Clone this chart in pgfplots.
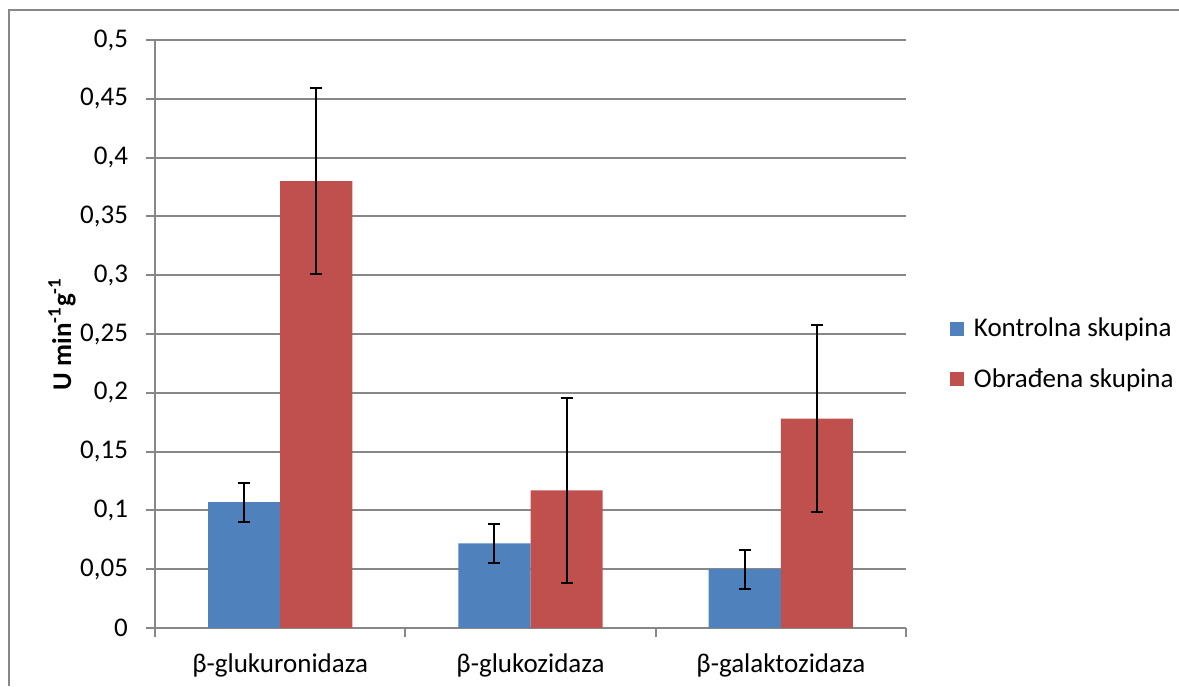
\documentclass[border=0pt]{standalone}
\usepackage{fontspec}
\setmainfont{Carlito}
\usepackage{pgfplots}
\pgfplotsset{compat=1.18}
\definecolor{ctrl}{HTML}{4F81BD}
\definecolor{obr}{HTML}{C0504D}
\definecolor{lin}{HTML}{878787}
\begin{document}
\begin{tikzpicture}
% 1 px of the reference = 0.5pt
\useasboundingbox (0,0) rectangle (589.5pt,343pt);
\draw[lin, line width=1pt] (4.5pt,0) -- (4.5pt,338pt) -- (589.5pt,338pt);
\begin{axis}[
    at={(77.5pt,29pt)}, anchor=south west,
    scale only axis, width=375.5pt, height=294pt,
    ybar, bar width=0.288,
    xmin=-0.5, xmax=2.5, ymin=0, ymax=0.5,
    ytick={0,0.05,...,0.5},
    xtick={0,1,2},
    xticklabels={β-glukuronidaza, β-glukozidaza, β-galaktozidaza},
    minor xtick={-0.5,0.5,1.5,2.5},
    xtick style={/pgfplots/major tick length=0pt},
    minor tick length=4.5pt, major tick length=4.5pt,
    tick align=outside,
    tick style={lin, line width=1pt},
    axis x line*=bottom, axis y line*=left,
    axis line style={lin, line width=1pt},
    ymajorgrids, grid style={lin, line width=1pt},
    /pgf/number format/assume math mode=true,
    /pgf/number format/use comma,
    /pgf/number format/fixed,
    /pgf/number format/precision=2,
    yticklabel style={font=\fontsize{13.5}{16}\selectfont, xshift=-5.5pt},
    xticklabel style={font=\fontsize{13.5}{16}\selectfont, yshift=-5pt},
    ylabel={\textbf{U min\textsuperscript{-1}g\textsuperscript{-1}}},
    ylabel style={font=\fontsize{13.5}{16}\selectfont, at={(axis description cs:-0.1238,0.5)}, anchor=center},
    legend style={at={(1.058,0.466)}, anchor=west, draw=none, fill=none,
        font=\fontsize{13.5}{16}\selectfont, row sep=10.5pt, inner sep=0pt},
    legend cell align=left,
    legend image code/.code={\fill[#1,draw=none] (0pt,-3.5pt) rectangle (7pt,3.5pt);
        \path (10pt,0pt);},
    error bars/error bar style={black, line width=1pt},
    error bars/error mark options={black, line width=1pt, mark size=3pt, rotate=90},
]
\addplot[fill=ctrl, draw=none, bar shift=-0.144,
    error bars/.cd, y dir=both, y explicit] coordinates {
    (0,0.107) +- (0,0.0165)
    (1,0.072) +- (0,0.0166)
    (2,0.050) +- (0,0.0166)
};
\addlegendentry{Kontrolna skupina}
\addplot[fill=obr, draw=none, bar shift=0.144,
    error bars/.cd, y dir=both, y explicit] coordinates {
    (0,0.380) +- (0,0.079)
    (1,0.117) +- (0,0.079)
    (2,0.178) +- (0,0.0795)
};
\addlegendentry{Obrađena skupina}
\end{axis}
\end{tikzpicture}
\end{document}
